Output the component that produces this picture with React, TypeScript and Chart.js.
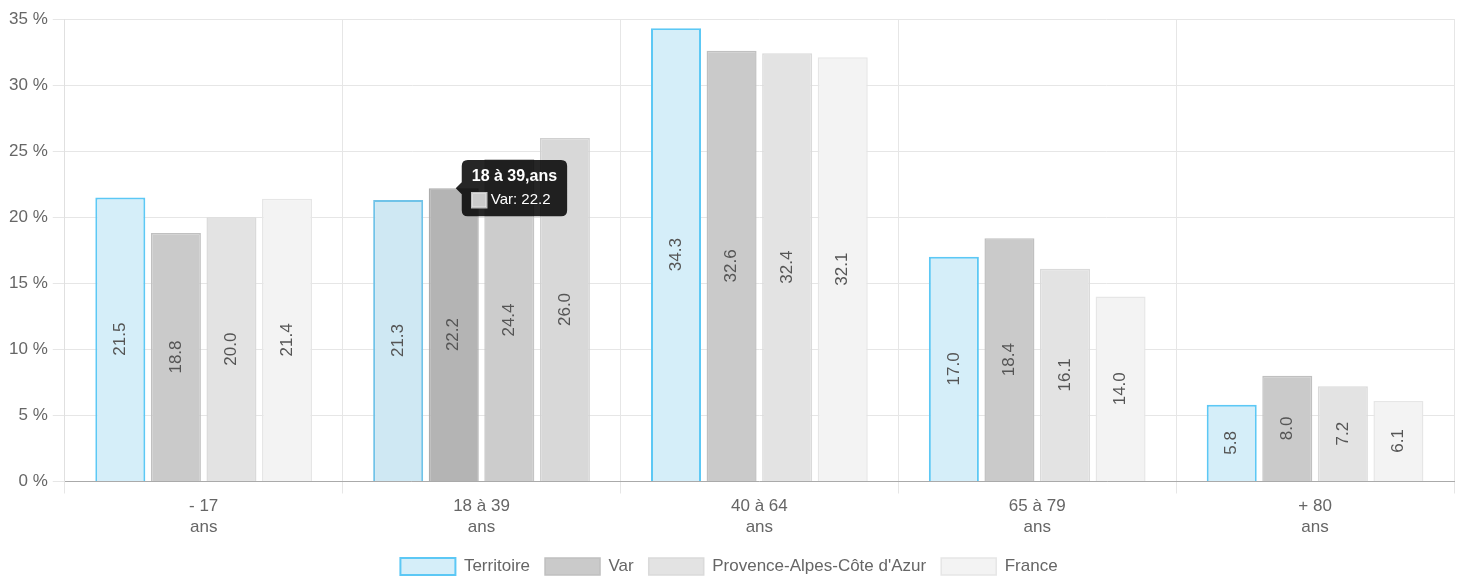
import React, { useEffect, useRef } from "react";
import { Chart, registerables } from "chart.js";

Chart.register(...registerables);

const categories: string[][] = [
  ["- 17", "ans"],
  ["18 à 39", "ans"],
  ["40 à 64", "ans"],
  ["65 à 79", "ans"],
  ["+ 80", "ans"],
];
const territoire = [21.5, 21.3, 34.3, 17.0, 5.8];
const varDept = [18.8, 22.2, 32.6, 18.4, 8.0];
const paca = [20.0, 24.4, 32.4, 16.1, 7.2];
const france = [21.4, 26.0, 32.1, 14.0, 6.1];
const yTicks = [0, 5, 10, 15, 20, 25, 30, 35];

const FONT = "'Liberation Sans', Arial, Helvetica, sans-serif";
const TEXT = "#666";

const barLabels = {
  id: "barLabels",
  afterDatasetsDraw(chart: any) {
    const ctx = chart.ctx;
    ctx.save();
    ctx.font = `17px ${FONT}`;
    ctx.fillStyle = "#555";
    ctx.textAlign = "center";
    ctx.textBaseline = "middle";
    chart.data.datasets.forEach((ds: any, di: number) => {
      const meta = chart.getDatasetMeta(di);
      meta.data.forEach((el: any, i: number) => {
        const v = ds.data[i];
        const cy = (el.y + el.base) / 2;
        ctx.save();
        ctx.translate(el.x, cy);
        ctx.rotate(-Math.PI / 2);
        ctx.fillText(Number(v).toFixed(1), 0, 0);
        ctx.restore();
      });
    });
    ctx.restore();
  },
};

export default function App() {
  const ref = useRef<HTMLCanvasElement | null>(null);
  useEffect(() => {
    document.body.style.margin = "0";
    document.body.style.overflow = "hidden";
    document.documentElement.style.overflow = "hidden";
    const chart = new Chart(ref.current as HTMLCanvasElement, {
      type: "bar",
      data: {
        labels: categories as any,
        datasets: [
          {
            label: "Territoire",
            data: territoire,
            backgroundColor: "#d5eef9",
            hoverBackgroundColor: "#cfe8f3",
            borderColor: "#5cc8f5",
            hoverBorderColor: "#70c3e8",
            borderWidth: 2,
          },
          {
            label: "Var",
            data: varDept,
            backgroundColor: "#cacaca",
            hoverBackgroundColor: "#b4b4b4",
            borderColor: "#c0c0c0",
            hoverBorderColor: "#acacac",
            borderWidth: 1.5,
          },
          {
            label: "Provence-Alpes-Côte d'Azur",
            data: paca,
            backgroundColor: "#e3e3e3",
            hoverBackgroundColor: "#cccccc",
            borderColor: "#dadada",
            hoverBorderColor: "#c4c4c4",
            borderWidth: 1.5,
          },
          {
            label: "France",
            data: france,
            backgroundColor: "#f3f3f3",
            hoverBackgroundColor: "#d8d8d8",
            borderColor: "#e6e6e6",
            hoverBorderColor: "#d0d0d0",
            borderWidth: 1.5,
          },
        ],
      },
      options: {
        animation: false,
        responsive: true,
        maintainAspectRatio: false,
        events: [],
        layout: { padding: { top: 19, right: 11, left: 4, bottom: 0 } },
        datasets: { bar: { categoryPercentage: 0.8, barPercentage: 0.9 } },
        scales: {
          x: {
            grid: { color: "#e6e6e6", tickLength: 12, offset: true },
            border: { color: "#aaaaaa" },
            ticks: {
              color: TEXT,
              font: { family: FONT, size: 17, lineHeight: 1.25 },
              padding: 2,
              maxRotation: 0,
            },
            afterFit: (scale: any) => {
              scale.height += 3;
            },
          },
          y: {
            min: 0,
            max: 35,
            afterBuildTicks: (axis: any) => {
              axis.ticks = yTicks.map((v) => ({ value: v }));
            },
            grid: { color: "#e6e6e6", tickLength: 12 },
            border: { color: "#e0e0e0" },
            ticks: {
              color: TEXT,
              font: { family: FONT, size: 17 },
              padding: 5,
              callback: (v: any) => `${v} %`,
            },
          },
        },
        plugins: {
          legend: {
            position: "bottom",
            labels: {
              color: TEXT,
              font: { family: FONT, size: 17 },
              boxWidth: 55,
              boxHeight: 17,
              padding: 15,
            },
          },
          tooltip: {
            backgroundColor: "rgba(0,0,0,0.85)",
            titleFont: { family: FONT, size: 16, weight: "bold" },
            bodyFont: { family: FONT, size: 15 },
            titleColor: "#fff",
            bodyColor: "#fff",
            padding: { x: 10, y: 7 } as any,
            cornerRadius: 6,
            caretSize: 6,
            caretPadding: 2,
            titleMarginBottom: 5,
            displayColors: true,
            boxPadding: 2,
            callbacks: {
              title: (items: any[]) => {
                const l = categories[items[0].dataIndex];
                return l.join(",");
              },
              label: (item: any) => `${item.dataset.label}: ${Number(item.raw).toFixed(1)}`,
            },
          },
        },
      },
      plugins: [barLabels],
    });
    chart.setActiveElements([0, 1, 2, 3].map((d) => ({ datasetIndex: d, index: 1 })));
    chart.tooltip!.setActiveElements([{ datasetIndex: 1, index: 1 }], { x: 0, y: 0 });
    chart.update();
    return () => chart.destroy();
  }, []);
  return (
    <div style={{ position: "absolute", left: 0, top: 0, width: 1465, height: 585 }}>
      <canvas ref={ref} />
    </div>
  );
}
